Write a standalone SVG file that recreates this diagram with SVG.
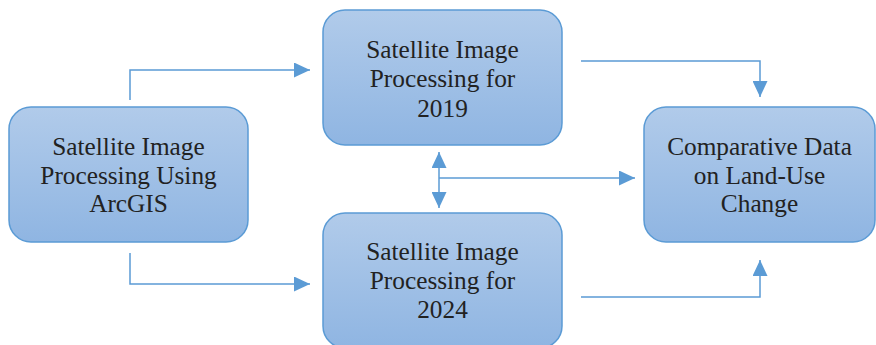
<svg xmlns="http://www.w3.org/2000/svg" width="876" height="345" viewBox="0 0 876 345">
  <defs>
    <linearGradient id="boxFill" x1="0" y1="0" x2="0" y2="1">
      <stop offset="0" stop-color="#b1cbea"/>
      <stop offset="1" stop-color="#8fb5e2"/>
    </linearGradient>
    <marker id="arrow" viewBox="0 0 16 15" refX="16" refY="7.5" markerWidth="16" markerHeight="15" markerUnits="userSpaceOnUse" orient="auto-start-reverse">
      <path d="M0,0 L16,7.5 L0,15 Z" fill="#5b9bd5"/>
    </marker>
  </defs>
  <style>
    .box { fill: url(#boxFill); stroke: #5b9bd5; stroke-width: 1.5; }
    .label { font-family: 'Liberation Serif', 'Times New Roman', serif; font-size: 25.3px; fill: #222222; text-anchor: middle; }
    .conn { fill: none; stroke: #5b9bd5; stroke-width: 1.5; }
  </style>
  <rect width="876" height="345" fill="#ffffff"/>

  <g id="connectors">
    <path class="conn" d="M130,100 V70 H310" marker-end="url(#arrow)"/>
    <path class="conn" d="M130,253 V284 H310" marker-end="url(#arrow)"/>
    <path class="conn" d="M581,61 H760 V97" marker-end="url(#arrow)"/>
    <path class="conn" d="M581,297 H760 V260" marker-end="url(#arrow)"/>
    <path class="conn" d="M439,152 V208" marker-start="url(#arrow)" marker-end="url(#arrow)"/>
    <path class="conn" d="M439,178 H635" marker-end="url(#arrow)"/>
  </g>

  <g id="node-arcgis">
    <rect class="box" x="9" y="107" width="239" height="135" rx="22"/>
    <text class="label" x="128.5" y="155">Satellite Image</text>
    <text class="label" x="128.5" y="183.5">Processing Using</text>
    <text class="label" x="128.5" y="212">ArcGIS</text>
  </g>

  <g id="node-2019">
    <rect class="box" x="323" y="10" width="239" height="135" rx="22"/>
    <text class="label" x="442.5" y="58">Satellite Image</text>
    <text class="label" x="442.5" y="87">Processing for</text>
    <text class="label" x="442.5" y="116.5">2019</text>
  </g>

  <g id="node-2024">
    <rect class="box" x="323" y="213" width="239" height="135" rx="22"/>
    <text class="label" x="442.5" y="260">Satellite Image</text>
    <text class="label" x="442.5" y="289">Processing for</text>
    <text class="label" x="442.5" y="318">2024</text>
  </g>

  <g id="node-comparative">
    <rect class="box" x="644" y="107" width="231" height="135" rx="22"/>
    <text class="label" x="759.5" y="155">Comparative Data</text>
    <text class="label" x="759.5" y="183.5">on Land-Use</text>
    <text class="label" x="759.5" y="212">Change</text>
  </g>
</svg>
